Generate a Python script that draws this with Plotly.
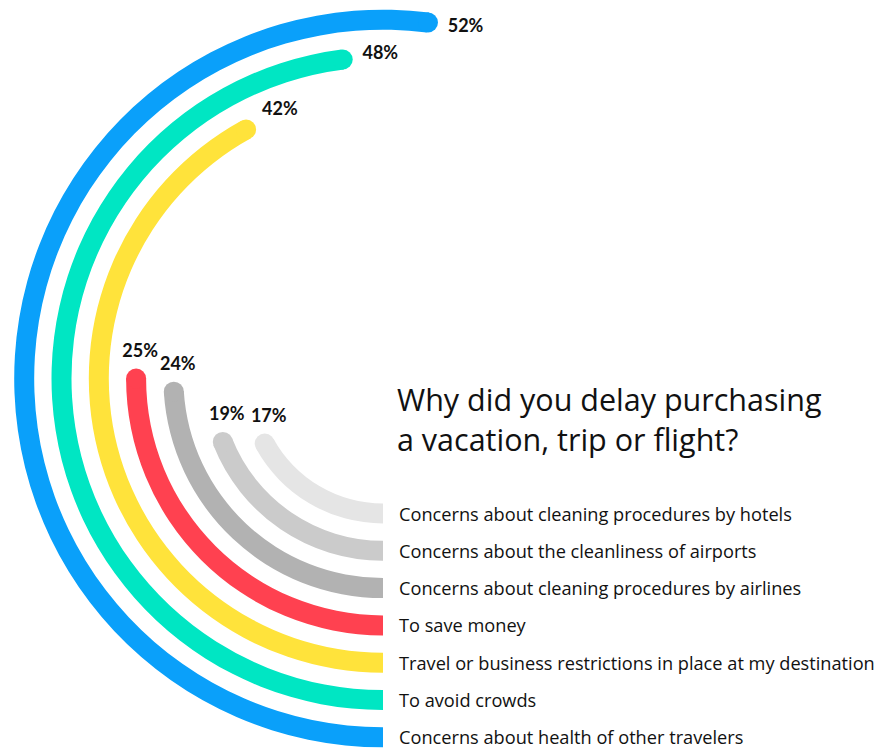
import numpy as np
import plotly.graph_objects as go

# Survey answers, innermost ring first
categories = [
    "Concerns about cleaning procedures by hotels",
    "Concerns about the cleanliness of airports",
    "Concerns about cleaning procedures by airlines",
    "To save money",
    "Travel or business restrictions in place at my destination",
    "To avoid crowds",
    "Concerns about health of other travelers",
]
percent = [17, 19, 24, 25, 42, 48, 52]
colors = ["#e5e5e5", "#cbcbcb", "#b2b2b2", "#ff4150", "#ffe33b", "#00e6c3", "#0aa0fa"]
title_lines = ["Why did you delay purchasing", "a vacation, trip or flight?"]

W, H = 888, 754
CX, CY = 383, 378.5          # ring centre, px from top-left
R0, STEP, THICK = 135, 37.3, 20
RMAX = 372                   # radial axis range in px
FONT = "Open Sans"
NUM_FONT = "Lato"
TEXT = "#111111"

n = len(percent)
radii = [R0 + STEP * i for i in range(n)]
span = [p * 3.6 for p in percent]   # 100 % = full turn

fig = go.Figure()

# ring segments
fig.add_trace(go.Barpolar(
    r=[THICK] * n,
    base=[r - THICK / 2 for r in radii],
    theta=[s / 2 for s in span],
    width=span,
    marker=dict(color=colors, line=dict(width=0)),
    hoverinfo="skip",
))

# rounded end caps
fig.add_trace(go.Scatterpolar(
    r=radii, theta=span, mode="markers",
    marker=dict(size=THICK, color=colors, line=dict(width=0)),
    hoverinfo="skip",
))

# value labels: above the cap for short rings, along the tangent for long ones
lab_r, lab_t = [], []
for r, s in zip(radii, span):
    a = np.radians(s)
    ex, ey = CX - r * np.sin(a), CY + r * np.cos(a)
    if s <= 90:
        lx, ly = ex + 4, ey - 26
    else:
        tx, ty = -np.cos(a), -np.sin(a)
        d = THICK / 2 + 9 + 18 * abs(tx) + 8 * abs(ty)
        lx, ly = ex + d * tx, ey + d * ty
    lab_r.append(float(np.hypot(lx - CX, ly - CY)))
    lab_t.append(float(np.degrees(np.arctan2(-(lx - CX), ly - CY)) % 360))
fig.add_trace(go.Scatterpolar(
    r=lab_r, theta=lab_t, mode="text",
    text=[f"{p}%" for p in percent],
    textposition="middle center",
    textfont=dict(family=NUM_FONT, size=18, color=TEXT, weight="bold"),
    hoverinfo="skip", cliponaxis=False,
))

fig.update_layout(
    width=W, height=H, autosize=False,
    margin=dict(l=0, r=0, t=0, b=0),
    paper_bgcolor="white", plot_bgcolor="white",
    showlegend=False,
    polar=dict(
        domain=dict(x=[(CX - RMAX) / W, (CX + RMAX) / W],
                    y=[(H - CY - RMAX) / H, (H - CY + RMAX) / H]),
        bgcolor="white",
        radialaxis=dict(range=[0, RMAX], visible=False, showgrid=False),
        angularaxis=dict(rotation=-90, direction="clockwise", visible=False,
                         showgrid=False, thetaunit="degrees"),
        bargap=0,
    ),
)

# category labels aligned with the bottom of each ring
for r, c in zip(radii, categories):
    fig.add_annotation(
        x=397 / W, y=(H - (CY + r)) / H, xref="paper", yref="paper",
        text=c, showarrow=False, xanchor="left", yanchor="middle",
        font=dict(family=FONT, size=18.2, color=TEXT),
    )

# question heading
fig.add_annotation(
    x=395 / W, y=(H - 419) / H, xref="paper", yref="paper",
    text="<br>".join(title_lines), showarrow=False, align="left",
    xanchor="left", yanchor="middle",
    font=dict(family=FONT, size=30.5, color=TEXT),
)

fig.write_html("out.html")
